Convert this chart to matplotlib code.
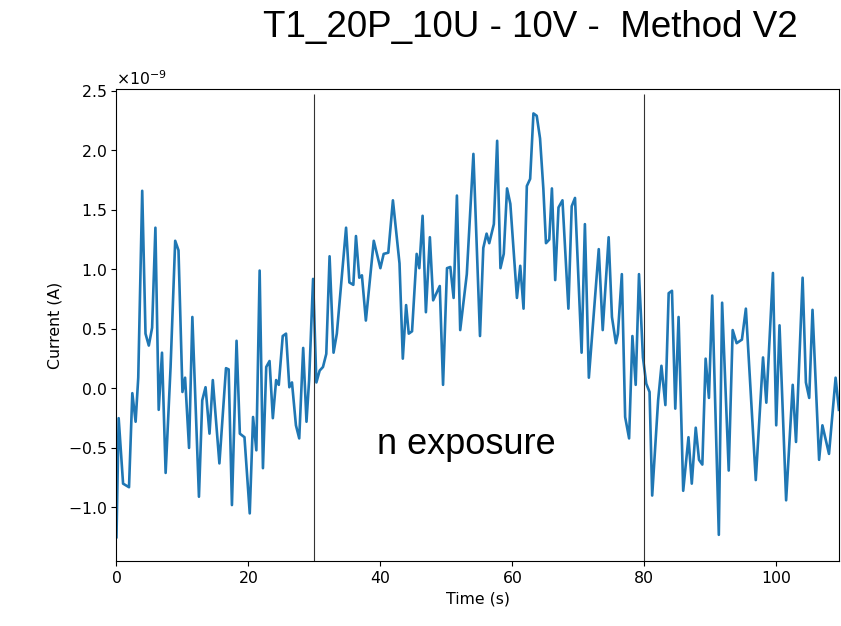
import matplotlib
matplotlib.use('Agg')
import matplotlib.pyplot as plt
import numpy as np

# values (current in units of 1e-9 A)
time_s = [0, 0.33, 1.0, 1.9, 2.4, 2.9, 3.3, 3.9, 4.4, 4.9, 5.4, 5.9, 6.4, 6.9, 7.45,
          8.2, 8.9, 9.4, 10.0, 10.4, 11.0, 11.5, 12.5, 13.0, 13.5, 14.1, 14.6, 15.6,
          16.6, 17.0, 17.5, 18.2, 18.7, 19.4, 20.2, 20.7, 21.2, 21.7, 22.2, 22.7, 23.2,
          23.7, 24.2, 24.6, 25.2, 25.7, 26.2, 26.6, 27.2, 27.7, 28.3, 28.8, 29.2, 29.8,
          30.3, 30.8, 31.3, 31.8, 32.3, 32.9, 33.4, 34.8, 35.3, 35.9, 36.3, 36.8, 37.2,
          37.8, 39.0, 40.0, 40.5, 41.2, 41.9, 42.9, 43.4, 43.9, 44.3, 44.8, 45.5, 45.9,
          46.4, 46.9, 47.5, 48.0, 49.0, 49.5, 50.1, 50.6, 51.1, 51.6, 52.1, 53.1, 54.1,
          55.1, 55.6, 56.1, 56.5, 57.2, 57.7, 58.2, 58.7, 59.2, 59.7, 60.7, 61.2, 61.7,
          62.2, 62.7, 63.2, 63.7, 64.2, 64.7, 65.1, 65.6, 66.0, 66.5, 67.0, 67.6, 68.5,
          69.0, 69.5, 70.5, 71.0, 71.6, 73.1, 73.7, 74.6, 75.1, 75.7, 76.0, 76.6, 77.1,
          77.7, 78.2, 78.7, 79.2, 79.8, 80.3, 80.8, 81.2, 82.1, 82.6, 83.2, 83.7, 84.2,
          84.7, 85.2, 85.9, 86.7, 87.2, 87.8, 88.3, 88.8, 89.3, 89.8, 90.3, 91.3, 91.8,
          92.8, 93.4, 94.0, 94.8, 95.4, 96.9, 98.0, 98.5, 99.5, 100.0, 100.5, 101.5,
          102.5, 103.0, 104.0, 104.5, 105.0, 105.5, 106.5, 107.0, 108.0, 109.0, 109.5]
current_n = [-1.25, -0.25, -0.80, -0.83, -0.04, -0.28, 0.09, 1.66, 0.46, 0.36, 0.51, 1.35,
             -0.18, 0.30, -0.71, 0.18, 1.24, 1.16, -0.03, 0.09, -0.50, 0.60, -0.91, -0.10,
             0.01, -0.38, 0.07, -0.63, 0.17, 0.16, -0.98, 0.40, -0.38, -0.41, -1.05, -0.24,
             -0.52, 0.99, -0.67, 0.18, 0.23, -0.25, 0.07, 0.03, 0.44, 0.46, 0.01, 0.05,
             -0.31, -0.42, 0.34, -0.28, 0.07, 0.92, 0.05, 0.15, 0.18, 0.29, 1.11, 0.30,
             0.46, 1.35, 0.89, 0.87, 1.28, 0.93, 0.95, 0.57, 1.24, 1.01, 1.13, 1.14, 1.58,
             1.05, 0.25, 0.70, 0.46, 0.48, 1.13, 1.01, 1.45, 0.64, 1.27, 0.74, 0.86, 0.03,
             1.01, 1.02, 0.76, 1.62, 0.49, 0.96, 1.97, 0.44, 1.18, 1.30, 1.22, 1.38, 2.08,
             1.01, 1.13, 1.68, 1.55, 0.76, 1.03, 0.67, 1.70, 1.76, 2.31, 2.29, 2.10, 1.68,
             1.22, 1.25, 1.68, 0.91, 1.52, 1.58, 0.67, 1.53, 1.60, 0.30, 1.38, 0.09, 1.17,
             0.49, 1.27, 0.60, 0.38, 0.46, 0.96, -0.24, -0.42, 0.44, 0.03, 0.96, 0.26, 0.04,
             -0.03, -0.90, -0.10, 0.19, -0.14, 0.80, 0.82, -0.17, 0.60, -0.86, -0.41, -0.80,
             -0.33, -0.60, -0.64, 0.25, -0.08, 0.78, -1.23, 0.72, -0.69, 0.49, 0.38, 0.41,
             0.67, -0.77, 0.26, -0.12, 0.97, -0.31, 0.53, -0.94, 0.03, -0.45, 0.93, 0.05,
             -0.08, 0.66, -0.60, -0.31, -0.55, 0.09, -0.18]
exposure_bounds = [30, 80]

t = np.array(time_s)
current = np.array(current_n) * 1e-9

fig = plt.figure(figsize=(8.41, 6.26), dpi=100)
ax = fig.add_axes([0.1385, 0.1038, 0.859, 0.754])
ax.plot(t, current, color='#1f77b4', lw=1.9)

ymin, ymax = -1.45e-9, 2.515e-9
ax.vlines(exposure_bounds, ymin, 2.47e-9, colors='#333333', lw=0.8)
ax.set_xlim(0, 109.5)
ax.set_ylim(ymin, ymax)
ax.ticklabel_format(axis='y', style='sci', scilimits=(0, 0), useMathText=True)

ax.set_xlabel('Time (s)', fontsize=11.3)
ax.set_ylabel('Current (A)', fontsize=11.3)
ax.tick_params(labelsize=11.3)
ax.yaxis.get_offset_text().set_fontsize(11.3)

ax.text(53, -0.47e-9, 'n exposure', fontsize=26, family='Liberation Sans',
        ha='center', va='center')
fig.text(530 / 841, 1 - 28 / 626, 'T1_20P_10U - 10V -  Method V2', fontsize=26.5,
         family='Liberation Sans', ha='center', va='center')

fig.savefig('out.png', dpi=100)
plt.close(fig)
